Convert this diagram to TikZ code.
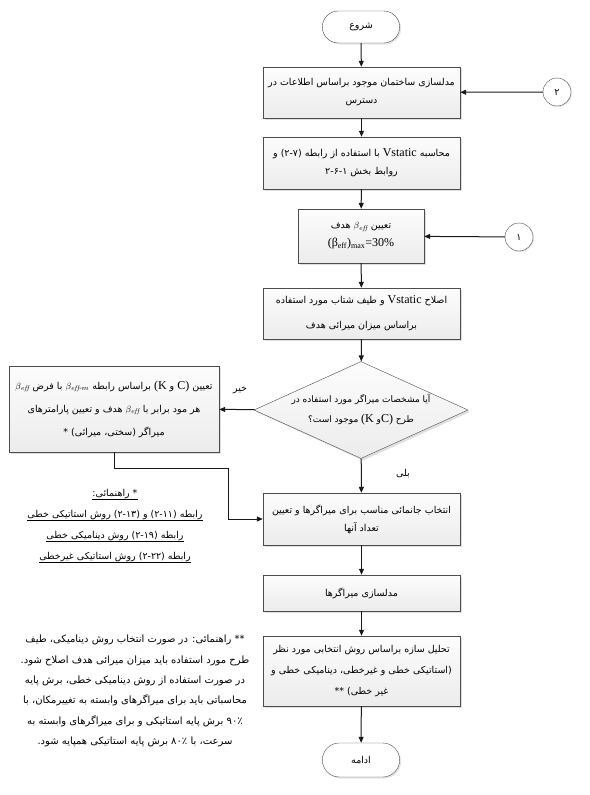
\documentclass[tikz,border=0pt]{standalone}
\usepackage{fontspec}
\usepackage{amsmath}
\usetikzlibrary{shapes.geometric,shapes.misc,shadows,arrows.meta,positioning}
\TeXXeTstate=1
\newfontfamily\fafont[Script=Arabic]{DejaVu Sans}
\newfontfamily\enfont{Liberation Serif}
\newcommand{\rl}[1]{\beginR #1\endR}
\newcommand{\lr}[1]{\beginL #1\endL}
\newcommand{\en}[1]{{\enfont #1}}
\newcommand{\beff}{\lr{$\beta_{\mathit{eff}}$}}
\newcommand{\ul}[1]{\underline{\rl{#1}}}
\tikzset{
  proc/.style={rectangle, draw=gray!60!black, top color=gray!2, bottom color=gray!15,
    drop shadow={shadow xshift=2pt, shadow yshift=-2pt, fill=gray!50},
    minimum width=197pt, align=center, inner sep=3pt},
  term/.style={rounded rectangle, draw=gray!60!black, fill=white,
    drop shadow={shadow xshift=1.5pt, shadow yshift=-1.5pt, fill=gray!40},
    minimum width=84pt, minimum height=32pt},
  decision/.style={diamond, draw=gray!60!black, top color=gray!2, bottom color=gray!15,
    drop shadow={shadow xshift=2pt, shadow yshift=-2pt, fill=gray!50},
    minimum width=214pt, minimum height=97pt, aspect=2.2, inner sep=0pt, align=center},
  conn/.style={circle, draw=gray!60!black, fill=white,
    drop shadow={shadow xshift=1pt, shadow yshift=-1pt, fill=gray!40},
    minimum size=28pt, inner sep=0pt},
  flow/.style={draw=gray!20!black, line width=1pt, -{Triangle[length=6pt,width=5pt]}}
}
\begin{document}
\begin{tikzpicture}[x=1pt, y=-1pt,
    every node/.style={font=\fafont\fontsize{9.5}{18}\selectfont}]
  \useasboundingbox (0,0) rectangle (589,795);

  % main column
  \node[term] (start) at (361,27) {\rl{شروع}};
  \node[proc, minimum height=51pt] (model) at (361.5,92.5)
    {\rl{مدلسازی ساختمان موجود براساس اطلاعات در}\\ \rl{دسترس}};
  \node[proc, minimum height=52pt] (vstat) at (361.5,163)
    {\rl{محاسبه \en{\large Vstatic} با استفاده از رابطه (۲-۷) و}\\ \rl{روابط بخش ۲-۶-۱}};
  \node[proc, minimum width=126pt, minimum height=54pt] (target) at (361,236)
    {\rl{تعیین \beff{} هدف}\\ \lr{\en{\large(β\textsubscript{eff})\textsubscript{max}=30\%}}};
  \node[proc, minimum height=51pt, font=\fafont\fontsize{9.5}{25}\selectfont] (fix) at (361.5,313.5)
    {\rl{اصلاح \en{\large Vstatic} و طیف شتاب مورد استفاده}\\ \rl{براساس میزان میرائی هدف}};
  \node[decision, font=\fafont\fontsize{9}{20}\selectfont] (dec) at (361,410)
    {\rl{آیا مشخصات میراگر مورد استفاده در}\\ \rl{طرح \lr{\en{\large(K} و\en{\large C)}} موجود است؟}};
  \node[proc, minimum height=52pt] (place) at (361.5,519)
    {\rl{انتخاب جانمائی مناسب برای میراگرها و تعیین}\\ \rl{تعداد آنها}};
  \node[proc, minimum height=36pt] (damp) at (361.5,593) {\rl{مدلسازی میراگرها}};
  \node[proc, minimum height=70pt, font=\fafont\fontsize{9.5}{21}\selectfont] (anal) at (361.5,671)
    {\rl{تحلیل سازه براساس روش انتخابی مورد نظر}\\
     \rl{(استاتیکی خطی و غیرخطی، دینامیکی خطی و}\\ \rl{غیر خطی) **}};
  \node[term, minimum height=34pt] (stop) at (361,760) {\rl{ادامه}};

  % side branch
  \node[proc, minimum width=210pt, minimum height=86pt, font=\fafont\fontsize{9.5}{23}\selectfont] (damper) at (114,409)
    {\rl{تعیین \lr{\en{\large(K} و \en{\large C)}} براساس رابطه \lr{$\beta_{\mathit{eff}\text{-}m}$} با فرض \beff}\\
     \rl{هر مود برابر با \beff{} هدف و تعیین پارامترهای}\\ \rl{میراگر (سختی، میرائی) *}};
  \node[conn] (c2) at (557,92) {\rl{۲}};
  \node[conn] (c1) at (519,237) {\rl{۱}};
  \node (no) at (240,390) {\rl{خیر}};
  \node (yes) at (403,474) {\rl{بلی}};
  \coordinate (bend) at (228,468);

  % notes
  \node[align=center, font=\fafont\fontsize{9.5}{21}\selectfont] (guide) at (115,526)
    {\ul{* راهنمائی:}\\ \ul{رابطه (۲-۱۱) و (۲-۱۳) روش استاتیکی خطی}\\
     \ul{رابطه (۲-۱۹) روش دینامیکی خطی}\\ \ul{رابطه (۲-۲۲) روش استاتیکی غیرخطی}};
  \node[align=center, font=\fafont\fontsize{10}{20.3}\selectfont] (note) at (135,691)
    {\rl{** راهنمائی: در صورت انتخاب روش دینامیکی، طیف}\\
     \rl{طرح مورد استفاده باید میزان میرائی هدف اصلاح شود.}\\
     \rl{در صورت استفاده از روش دینامیکی خطی، برش پایه}\\
     \rl{محاسباتی باید برای میراگرهای وابسته به تغییرمکان، با}\\
     \rl{۹۰٪ برش پایه استاتیکی و برای میراگرهای وابسته به}\\
     \rl{سرعت، با ۸۰٪ برش پایه استاتیکی همپایه شود.}};

  % connectors
  \foreach \a/\b in {start/model, model/vstat, vstat/target, target/fix, fix/dec,
      dec/place, place/damp, damp/anal, anal/stop}
    \draw[flow] (\a) -- (\b);
  \draw[flow] (c2) -- (model);
  \draw[flow] (c1) -- (target);
  \draw[flow] (dec) -- (damper);
  \draw[flow] (damper.south) |- (bend) |- (place.west);
\end{tikzpicture}
\end{document}
